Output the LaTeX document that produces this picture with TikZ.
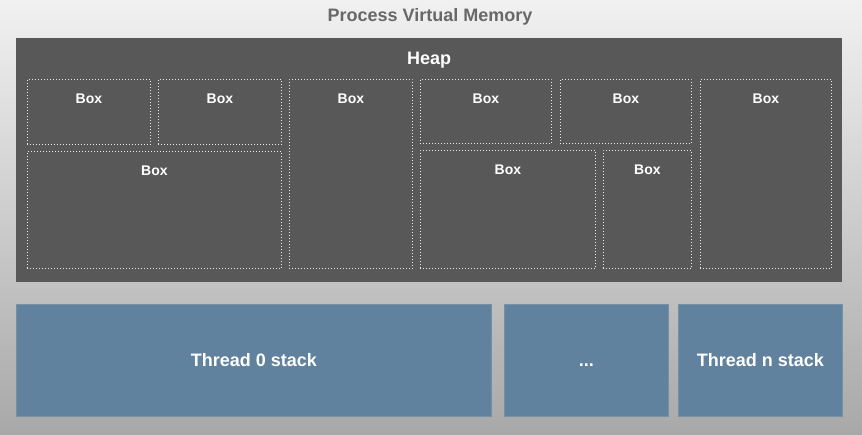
\documentclass[tikz,border=0pt]{standalone}
\usepackage{fontspec}
\setmainfont{Liberation Sans}
\usepackage{xcolor}
\usepackage{tikz}
\usetikzlibrary{positioning}

\definecolor{bgtop}{HTML}{F1F1F1}
\definecolor{bgbottom}{HTML}{A8A8A8}
\definecolor{heapgray}{HTML}{585858}
\definecolor{stackblue}{HTML}{60829F}
\definecolor{stackedge}{HTML}{7890A4}
\definecolor{titlegray}{HTML}{686868}

\begin{document}
\begin{tikzpicture}[
    x=1pt, y=-1pt,
    title/.style={font=\fontsize{18}{21}\selectfont\bfseries, text=titlegray},
    heap/.style={rectangle, fill=heapgray, anchor=north west, inner sep=0pt},
    heaptitle/.style={font=\fontsize{18}{21}\selectfont\bfseries, text=white},
    heapbox/.style={rectangle, draw=white!85!gray, line width=0.9pt, dash pattern=on 0.9pt off 2.1pt, anchor=north west, inner sep=0pt},
    boxtext/.style={font=\fontsize{14}{16}\selectfont\bfseries, text=white},
    stack/.style={rectangle, fill=stackblue, draw=stackedge, line width=0.6pt, anchor=north west, inner sep=0pt, text height=13pt, text depth=0pt, text=white, font=\fontsize{18}{21}\selectfont\bfseries}
]

% Background
\shade[top color=bgtop, bottom color=bgbottom] (0,0) rectangle (862,435);
\useasboundingbox (0,0) rectangle (862,435);

% Title
\node[title] (title) at (430,17) {Process Virtual Memory};

% Heap
\node[heap, minimum width=826pt, minimum height=244pt] (heap) at (16,38) {};
\node[heaptitle] (heaplabel) at ([yshift=-22pt]heap.north) {Heap};

% Boxes in the heap
\node[heapbox, minimum width=123pt, minimum height=65pt] (box1) at (27,79) {};
\node[heapbox, minimum width=123pt, minimum height=65pt] (box2) at (158,79) {};
\node[heapbox, minimum width=254pt, minimum height=117pt] (box3) at (27,151) {};
\node[heapbox, minimum width=123pt, minimum height=189pt] (box4) at (289,79) {};
\node[heapbox, minimum width=131pt, minimum height=64pt] (box5) at (420,79) {};
\node[heapbox, minimum width=131pt, minimum height=64pt] (box6) at (560,79) {};
\node[heapbox, minimum width=175pt, minimum height=118pt] (box7) at (420,150) {};
\node[heapbox, minimum width=88pt, minimum height=118pt] (box8) at (603,150) {};
\node[heapbox, minimum width=131pt, minimum height=189pt] (box9) at (700,79) {};

% Box labels
\foreach \b in {box1,box2,box3,box4,box5,box6,box7,box8,box9}
    \node[boxtext] (\b label) at ([yshift=-19.5pt]\b.north) {Box};

% Thread stacks
\node[stack, minimum width=475pt, minimum height=112pt] (stack0) at (16,304) {Thread 0 stack};
\node[stack, minimum width=164pt, minimum height=112pt] (stackdots) at (504,304) {...};
\node[stack, minimum width=164pt, minimum height=112pt] (stackn) at (678,304) {Thread n stack};

\end{tikzpicture}
\end{document}
